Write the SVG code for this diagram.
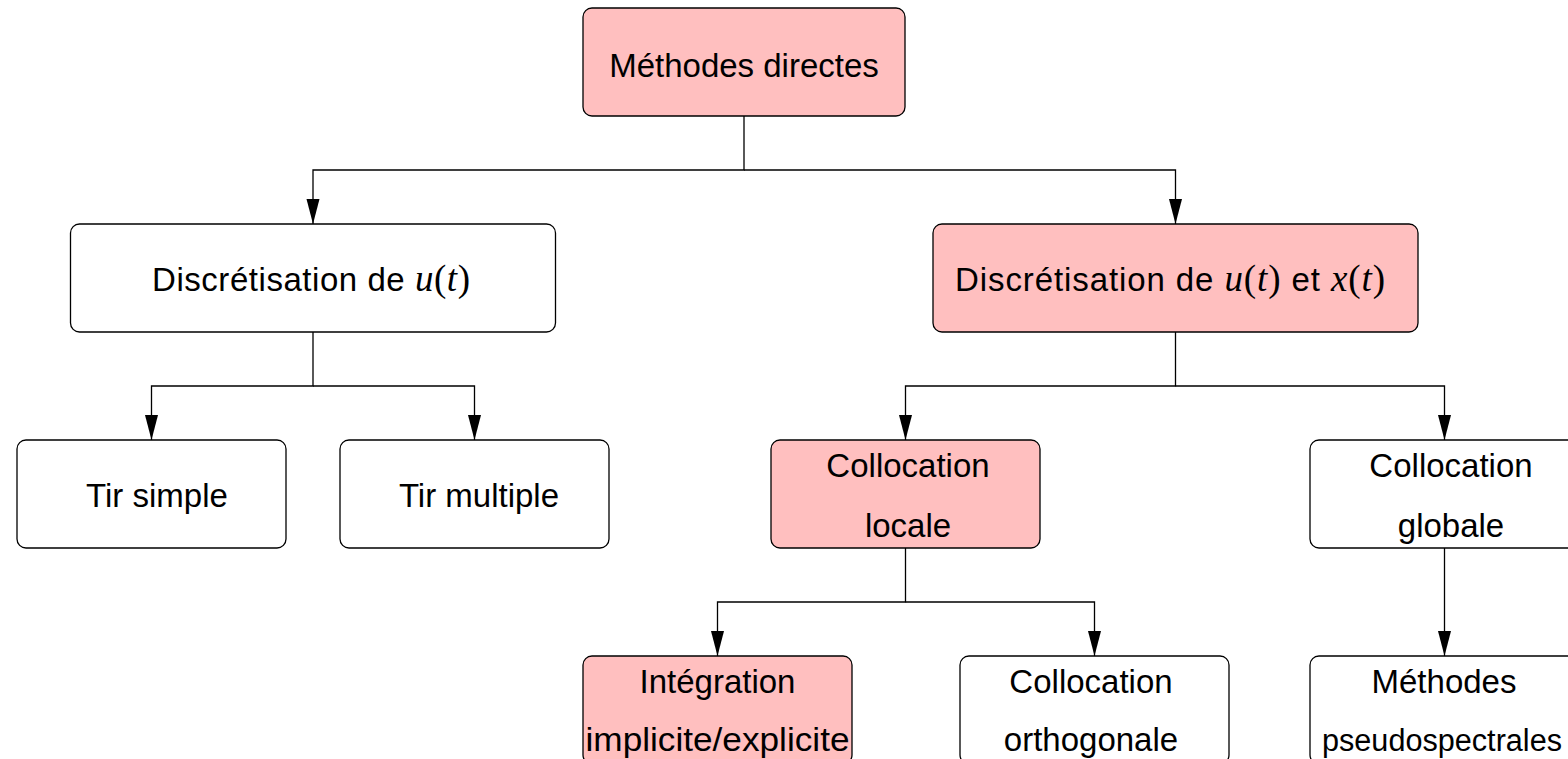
<svg xmlns="http://www.w3.org/2000/svg" width="1568" height="759" viewBox="0 0 1568 759">
<style>
.box{stroke:#000;stroke-width:1.3;fill:#fff}
.pink{fill:#FFBFBF}
.lbl{font-family:"Liberation Sans",Arial,sans-serif;font-size:33px;fill:#000;text-anchor:middle}
.m{font-family:"Liberation Serif","Times New Roman",serif;font-style:italic;font-size:37px}
.p{font-family:"Liberation Serif","Times New Roman",serif;font-size:37px}
.edge{fill:none;stroke:#000;stroke-width:1.3}
</style>
<defs>
<marker id="arr" markerUnits="userSpaceOnUse" markerWidth="26" markerHeight="14" refX="25" refY="6.5" orient="auto">
<path d="M0,0 L25,6.5 L0,13 z" fill="#000"/>
</marker>
</defs>
<rect width="1568" height="759" fill="#fff"/>
<g id="connectors">
<path class="edge" d="M744,116 V170 H313 V224" marker-end="url(#arr)"/>
<path class="edge" d="M744,170 H1175.5 V224" marker-end="url(#arr)"/>
<path class="edge" d="M313,332 V386 H151.5 V440" marker-end="url(#arr)"/>
<path class="edge" d="M313,386 H474.5 V440" marker-end="url(#arr)"/>
<path class="edge" d="M1175.5,332 V386 H905.5 V440" marker-end="url(#arr)"/>
<path class="edge" d="M1175.5,386 H1444.5 V440" marker-end="url(#arr)"/>
<path class="edge" d="M905.5,548 V602 H717.5 V656" marker-end="url(#arr)"/>
<path class="edge" d="M905.5,602 H1094.5 V656" marker-end="url(#arr)"/>
<path class="edge" d="M1444.5,548 V656" marker-end="url(#arr)"/>
</g>
<g id="n-root">
<rect class="box pink" x="583" y="8" width="322" height="108" rx="9"/>
<text class="lbl" x="744" y="77">Méthodes directes</text>
</g>
<g id="n-du">
<rect class="box" x="70.5" y="224" width="485" height="108" rx="9"/>
<text class="lbl" x="311" y="291" textLength="318" lengthAdjust="spacing">Discrétisation de <tspan class="m">u</tspan><tspan class="p">(</tspan><tspan class="m">t</tspan><tspan class="p">)</tspan></text>
</g>
<g id="n-dux">
<rect class="box pink" x="933" y="224" width="485" height="108" rx="9"/>
<text class="lbl" x="1170" y="291" textLength="430" lengthAdjust="spacing">Discrétisation de <tspan class="m">u</tspan><tspan class="p">(</tspan><tspan class="m">t</tspan><tspan class="p">)</tspan> et <tspan class="m">x</tspan><tspan class="p">(</tspan><tspan class="m">t</tspan><tspan class="p">)</tspan></text>
</g>
<g id="n-tirs">
<rect class="box" x="17" y="440" width="269" height="108" rx="9"/>
<text class="lbl" x="157" y="507">Tir simple</text>
</g>
<g id="n-tirm">
<rect class="box" x="340" y="440" width="269" height="108" rx="9"/>
<text class="lbl" x="479" y="507">Tir multiple</text>
</g>
<g id="n-cloc">
<rect class="box pink" x="771" y="440" width="269" height="108" rx="9"/>
<text class="lbl" x="908" y="477">Collocation</text>
<text class="lbl" x="908" y="537">locale</text>
</g>
<g id="n-cglob">
<rect class="box" x="1310" y="440" width="269" height="108" rx="9"/>
<text class="lbl" x="1451" y="477">Collocation</text>
<text class="lbl" x="1451" y="537">globale</text>
</g>
<g id="n-integ">
<rect class="box pink" x="583" y="656" width="269" height="108" rx="9"/>
<text class="lbl" x="717.5" y="693">Intégration</text>
<text class="lbl" x="717.5" y="751" textLength="264" lengthAdjust="spacingAndGlyphs">implicite/explicite</text>
</g>
<g id="n-corth">
<rect class="box" x="960" y="656" width="269" height="108" rx="9"/>
<text class="lbl" x="1091" y="693">Collocation</text>
<text class="lbl" x="1091" y="751">orthogonale</text>
</g>
<g id="n-pseudo">
<rect class="box" x="1310" y="656" width="269" height="108" rx="9"/>
<text class="lbl" x="1444" y="693">Méthodes</text>
<text class="lbl" x="1442" y="751" style="font-size:31px" textLength="240" lengthAdjust="spacingAndGlyphs">pseudospectrales</text>
</g>
</svg>
